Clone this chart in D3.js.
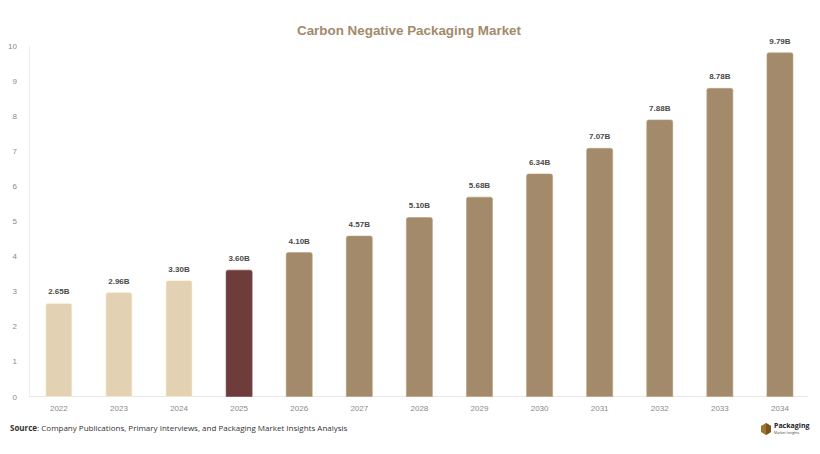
<!DOCTYPE html>
<html>
<head>
<meta charset="utf-8">
<script src="https://cdn.jsdelivr.net/npm/d3@7"></script>
<style>
  body { margin: 0; background: #fff; }
  svg { display: block; }
</style>
</head>
<body>
<div id="chart"></div>
<script>
// values
var years = ["2022", "2023", "2024", "2025", "2026", "2027", "2028", "2029", "2030", "2031", "2032", "2033", "2034"];
var values = [2.65, 2.96, 3.30, 3.60, 4.10, 4.57, 5.10, 5.68, 6.34, 7.07, 7.88, 8.78, 9.79];
var labels = ["2.65B", "2.96B", "3.30B", "3.60B", "4.10B", "4.57B", "5.10B", "5.68B", "6.34B", "7.07B", "7.88B", "8.78B", "9.79B"];
var yTicks = [0, 1, 2, 3, 4, 5, 6, 7, 8, 9, 10];

var W = 820, H = 454;
var plotLeft = 29, plotRight = 808, plotTop = 45.5, plotBottom = 396.5;

var svg = d3.select("#chart").append("svg")
  .attr("width", W)
  .attr("height", H);

var x = d3.scaleBand()
  .domain(years)
  .range([plotLeft, plotLeft + 60.06 * 13])
  .paddingInner(0.567)
  .paddingOuter(0.28);

var y = d3.scaleLinear()
  .domain([0, 10])
  .range([plotBottom, plotTop]);

function barColor(d, i) {
  if (i < 3) return "#e2d1b3";
  if (i === 3) return "#6e3c3b";
  return "#a28a6b";
}

// title
svg.append("text")
  .attr("x", 409)
  .attr("y", 35)
  .attr("text-anchor", "middle")
  .style("font-family", "Liberation Sans, Arial, sans-serif")
  .style("font-weight", "bold")
  .style("font-size", "13.4px")
  .style("fill", "#a28a6b")
  .text("Carbon Negative Packaging Market");

// y axis
var yAxis = svg.append("g")
  .attr("transform", "translate(" + plotLeft + ",0)")
  .call(d3.axisLeft(y).tickValues(yTicks).tickSize(0).tickPadding(12));
yAxis.select(".domain").attr("stroke", "#eeeeee");
yAxis.selectAll("text")
  .style("font-family", "Liberation Sans, Arial, sans-serif")
  .style("font-size", "8px")
  .style("fill", "#8a8a8a");

// baseline
svg.append("line")
  .attr("x1", plotLeft)
  .attr("x2", plotRight)
  .attr("y1", y(0))
  .attr("y2", y(0))
  .attr("stroke", "#e8e8e8");

// x axis labels
var xAxis = svg.append("g")
  .attr("transform", "translate(0," + plotBottom + ")")
  .call(d3.axisBottom(x).tickSize(0).tickPadding(9));
xAxis.select(".domain").remove();
xAxis.selectAll("text")
  .style("font-family", "Liberation Sans, Arial, sans-serif")
  .style("font-size", "8px")
  .style("fill", "#8a8a8a");

// bars with rounded tops
function barPath(d, i) {
  var x0 = x(years[i]), w = x.bandwidth();
  var y0 = y(d), y1 = y(0), r = 2;
  return "M" + x0 + "," + y1 +
    "V" + (y0 + r) +
    "Q" + x0 + "," + y0 + " " + (x0 + r) + "," + y0 +
    "H" + (x0 + w - r) +
    "Q" + (x0 + w) + "," + y0 + " " + (x0 + w) + "," + (y0 + r) +
    "V" + y1 + "Z";
}

svg.append("g").selectAll("path")
  .data(values)
  .enter().append("path")
  .attr("d", barPath)
  .attr("fill", barColor)
  .attr("stroke", function(d, i) { return d3.color(barColor(d, i)).brighter(0.4); })
  .attr("stroke-width", 0.6);

// value labels
svg.append("g").selectAll("text")
  .data(values)
  .enter().append("text")
  .attr("x", function(d, i) { return x(years[i]) + x.bandwidth() / 2; })
  .attr("y", function(d) { return y(d) - 9; })
  .attr("text-anchor", "middle")
  .style("font-family", "Liberation Sans, Arial, sans-serif")
  .style("font-weight", "bold")
  .style("font-size", "8px")
  .style("fill", "#4a4a4a")
  .text(function(d, i) { return labels[i]; });

// source note
var src = svg.append("text")
  .attr("x", 10)
  .attr("y", 431)
  .style("font-family", "Open Sans, sans-serif")
  .style("font-size", "8px")
  .style("fill", "#333");
src.append("tspan").style("font-weight", "bold").text("Source");
src.append("tspan").text(": Company Publications, Primary Interviews, and Packaging Market Insights Analysis");

// logo
var logo = svg.append("g").attr("transform", "translate(766,429)");
logo.append("path")
  .attr("d", "M0,-6 L5,-3 L5,3 L0,6 L-5,3 L-5,-3 Z")
  .attr("fill", "#a0722f");
logo.append("path")
  .attr("d", "M0,-6 L5,-3 L5,3 L0,6 Z")
  .attr("fill", "#7a5522");
logo.append("text")
  .attr("x", 8)
  .attr("y", -1)
  .style("font-family", "Open Sans, sans-serif")
  .style("font-weight", "bold")
  .style("font-size", "7px")
  .style("fill", "#222")
  .text("Packaging");
logo.append("text")
  .attr("x", 8)
  .attr("y", 5)
  .style("font-family", "Open Sans, sans-serif")
  .style("font-size", "3.5px")
  .style("fill", "#444")
  .text("Market Insights");
</script>
</body>
</html>
